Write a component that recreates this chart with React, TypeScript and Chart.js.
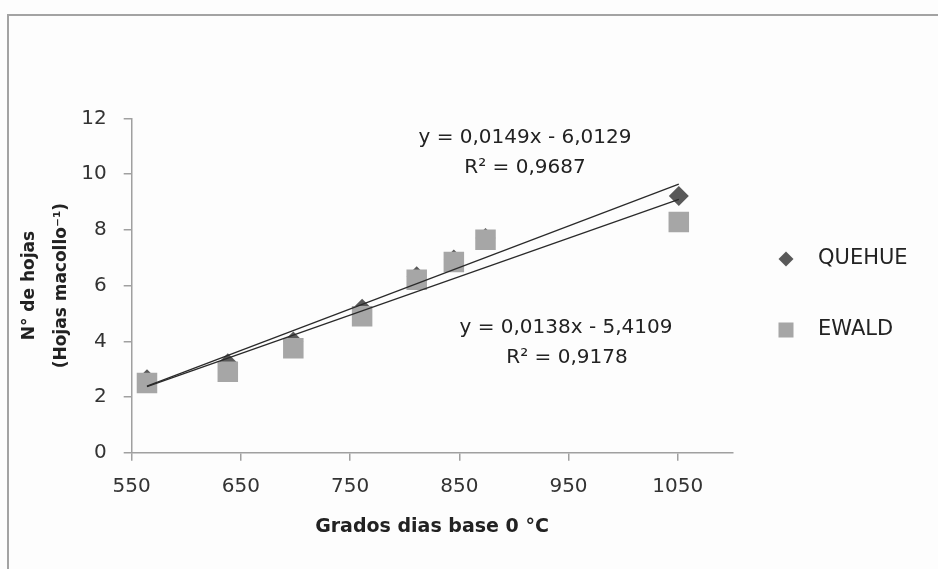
import React, { useEffect, useRef } from "react";
import { Chart, registerables } from "chart.js";

Chart.register(...registerables);

// ---- data ----
const gradosDias = [564, 638, 698, 761, 811, 845, 874, 1051];
const quehueHojas = [2.64, 3.21, 3.99, 5.17, 6.34, 6.94, 7.71, 9.22];
const ewaldHojas = [2.5, 2.91, 3.75, 4.9, 6.21, 6.85, 7.65, 8.28];
const xTickValues = [550, 650, 750, 850, 950, 1050];
const quehueTrend = { slope: 0.0149, intercept: -6.0129, r2: "0,9687", eq: "y = 0,0149x - 6,0129" };
const ewaldTrend = { slope: 0.0138, intercept: -5.4109, r2: "0,9178", eq: "y = 0,0138x - 5,4109" };
const seriesNames = ["QUEHUE", "EWALD"];
const xTitle = "Grados dias base 0 °C";
const yTitle = ["N° de hojas", "(Hojas macollo⁻¹)"];

const FONT = '"DejaVu Sans", sans-serif';
const DARK = "#595959";
const LIGHT = "#a6a6a6";
const AXIS = "#a0a0a0";
const TEXT = "#222222";

function trendPoints(t: { slope: number; intercept: number }) {
  const x0 = gradosDias[0];
  const x1 = gradosDias[gradosDias.length - 1];
  return [
    { x: x0, y: t.slope * x0 + t.intercept },
    { x: x1, y: t.slope * x1 + t.intercept },
  ];
}

const overlayPlugin = {
  id: "overlay",
  afterDraw(chart: any) {
    const ctx = chart.ctx;
    ctx.save();
    ctx.fillStyle = TEXT;
    ctx.textAlign = "center";
    ctx.textBaseline = "middle";
    ctx.font = `20px ${FONT}`;
    ctx.fillText(quehueTrend.eq, 525, 138);
    ctx.fillText(`R² = ${quehueTrend.r2}`, 525, 168);
    ctx.fillText(ewaldTrend.eq, 566, 328);
    ctx.fillText(`R² = ${ewaldTrend.r2}`, 567, 358);

    // legend
    const lx = 786;
    ctx.fillStyle = DARK;
    ctx.beginPath();
    ctx.moveTo(lx - 7.5, 259);
    ctx.lineTo(lx, 251.5);
    ctx.lineTo(lx + 7.5, 259);
    ctx.lineTo(lx, 266.5);
    ctx.closePath();
    ctx.fill();
    ctx.fillStyle = LIGHT;
    ctx.fillRect(lx - 7.5, 322.5, 15, 15);
    ctx.fillStyle = TEXT;
    ctx.textAlign = "left";
    ctx.font = `21px ${FONT}`;
    ctx.fillText(seriesNames[0], 818, 259);
    ctx.fillText(seriesNames[1], 818, 330);
    ctx.restore();
  },
};

export default function App() {
  const ref = useRef<HTMLCanvasElement | null>(null);
  useEffect(() => {
    if (!ref.current) return;
    const chart = new Chart(ref.current, {
      type: "scatter",
      data: {
        datasets: [
          {
            type: "line",
            label: "trend QUEHUE",
            data: trendPoints(quehueTrend),
            borderColor: "#2a2a2a",
            borderWidth: 1.3,
            pointRadius: 0,
            order: 0,
          },
          {
            type: "line",
            label: "trend EWALD",
            data: trendPoints(ewaldTrend),
            borderColor: "#2a2a2a",
            borderWidth: 1.3,
            pointRadius: 0,
            order: 0,
          },
          {
            label: seriesNames[1],
            data: gradosDias.map((x, i) => ({ x, y: ewaldHojas[i] })),
            pointStyle: "rect",
            pointRadius: 14.5,
            backgroundColor: LIGHT,
            borderWidth: 0,
            order: 1,
          },
          {
            label: seriesNames[0],
            data: gradosDias.map((x, i) => ({ x, y: quehueHojas[i] })),
            pointStyle: "rectRot",
            pointRadius: 10,
            backgroundColor: DARK,
            borderWidth: 0,
            order: 2,
          },
        ] as any,
      },
      options: {
        animation: false,
        responsive: false,
        maintainAspectRatio: false,
        devicePixelRatio: 1,
        layout: { padding: { left: 0, top: 118.5, right: 205.7, bottom: 30.3 } },
        plugins: { legend: { display: false }, tooltip: { enabled: false } },
        scales: {
          x: {
            type: "linear",
            min: 550,
            max: 1100,
            afterBuildTicks: (s: any) => {
              s.ticks = xTickValues.map((v) => ({ value: v }));
            },
            afterFit: (s: any) => {
              s.height = 86;
            },
            border: { display: true, color: AXIS, width: 1.5 },
            grid: { drawOnChartArea: false, drawTicks: true, tickLength: 8, color: AXIS, lineWidth: 1.5 },
            ticks: {
              font: { family: FONT, size: 20 },
              color: "#333333",
              padding: 14,
              maxRotation: 0,
              callback: (v: any) => String(v),
            },
            title: {
              display: true,
              text: xTitle,
              font: { family: FONT, size: 19, weight: "bold" },
              color: TEXT,
              padding: { top: 0, bottom: 0 },
            },
          },
          y: {
            min: 0,
            max: 12,
            ticks: {
              stepSize: 2,
              font: { family: FONT, size: 20 },
              color: "#333333",
              padding: 17,
              callback: (v: any) => String(v),
            },
            afterFit: (s: any) => {
              s.width = 131.7;
            },
            border: { display: true, color: AXIS, width: 1.5 },
            grid: { drawOnChartArea: false, drawTicks: true, tickLength: 8, color: AXIS, lineWidth: 1.5 },
            title: {
              display: true,
              text: yTitle,
              font: { family: FONT, size: 17, weight: "bold", lineHeight: 32 / 17 },
              color: TEXT,
              padding: { top: 14, bottom: 0 },
            },
          },
        },
      } as any,
      plugins: [overlayPlugin],
    });
    return () => chart.destroy();
  }, []);

  return (
    <div style={{ position: "fixed", left: 0, top: 0, width: 938, height: 569, background: "#fdfdfd" }}>
      <div
        style={{
          position: "absolute",
          left: 7,
          top: 14,
          right: 0,
          bottom: 0,
          borderLeft: "2px solid #a3a3a3",
          borderTop: "2px solid #a3a3a3",
        }}
      />
      <canvas ref={ref} width={938} height={569} style={{ position: "absolute", left: 0, top: 0 }} />
    </div>
  );
}
